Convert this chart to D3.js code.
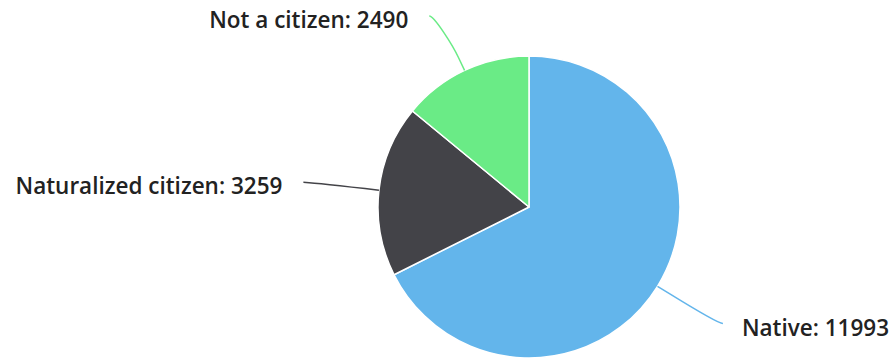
<!DOCTYPE html>
<html>
<head>
<meta charset="utf-8">
<script src="https://cdn.jsdelivr.net/npm/d3@7/dist/d3.min.js"></script>
<style>
  html, body { margin: 0; padding: 0; background: #fff; }
  svg { display: block; }
  .label { font-family: "Open Sans", "DejaVu Sans", sans-serif; font-weight: 600; font-size: 22.5px; fill: #222; }
</style>
</head>
<body>
<svg id="chart" width="896" height="362"></svg>
<script>
// Citizenship status breakdown
const categories = ["Native", "Naturalized citizen", "Not a citizen"];
const values = [11993, 3259, 2490];
const colors = ["#63b5eb", "#434348", "#6aeb86"];

const width = 896, height = 362;
const cx = 529, cy = 207, radius = 151;
const labelDistance = 71;   // connector end, beyond the rim
const breakDistance = 14;   // connector's second break, beyond the rim
const labelGap = 24;        // gap between connector end and text
const minLabelY = 16;

const data = categories.map((c, i) => ({ name: c, value: values[i], color: colors[i] }));

const svg = d3.select("#chart");
const g = svg.append("g").attr("transform", `translate(${cx},${cy})`);

const pie = d3.pie().value(d => d.value).sort(null);
const arc = d3.arc().innerRadius(0).outerRadius(radius);
const arcs = pie(data);

g.selectAll("path.slice")
  .data(arcs)
  .join("path")
  .attr("class", "slice")
  .attr("d", arc)
  .attr("fill", d => d.data.color)
  .attr("stroke", "#fff")
  .attr("stroke-width", 1.5)
  .attr("stroke-linejoin", "round");

// polar point, angle measured clockwise from 12 o'clock
const polar = (a, r) => [Math.sin(a) * r, -Math.cos(a) * r];

arcs.forEach(d => {
  const mid = (d.startAngle + d.endAngle) / 2;
  const side = Math.sin(mid) >= 0 ? 1 : -1;
  const p4 = polar(mid, radius);
  const p2 = polar(mid, radius + breakDistance);
  const end = polar(mid, radius + labelDistance);
  end[1] = Math.max(end[1], minLabelY - cy);

  const path = d3.path();
  path.moveTo(end[0] + 5 * side, end[1]);
  path.bezierCurveTo(end[0], end[1], 2 * p2[0] - p4[0], 2 * p2[1] - p4[1], p2[0], p2[1]);
  path.lineTo(p4[0], p4[1]);

  g.append("path")
    .attr("d", path.toString())
    .attr("fill", "none")
    .attr("stroke", d.data.color)
    .attr("stroke-width", 1.5);

  g.append("text")
    .attr("class", "label")
    .attr("x", end[0] + (side > 0 ? labelGap : -labelGap - 2))
    .attr("y", end[1] + 12)
    .attr("text-anchor", side > 0 ? "start" : "end")
    .text(`${d.data.name}: ${d.data.value}`);
});
</script>
</body>
</html>
